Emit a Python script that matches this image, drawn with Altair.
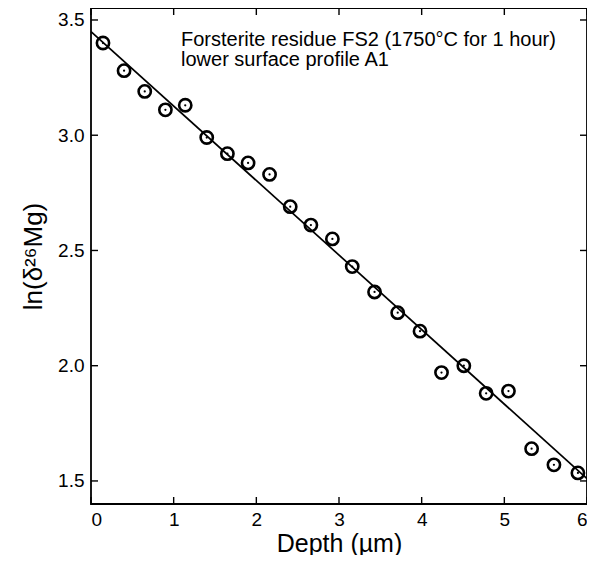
import altair as alt
import pandas as pd

# data
depth = [0.145, 0.40, 0.65, 0.90, 1.14, 1.40, 1.65, 1.90, 2.16, 2.41, 2.66, 2.92,
         3.16, 3.43, 3.71, 3.98, 4.24, 4.51, 4.78, 5.05, 5.33, 5.60, 5.89]
ln_d26 = [3.40, 3.28, 3.19, 3.11, 3.13, 2.99, 2.92, 2.88, 2.83, 2.69, 2.61, 2.55,
          2.43, 2.32, 2.23, 2.15, 1.97, 2.00, 1.88, 1.89, 1.64, 1.57, 1.535]
fit_x = [0.0, 6.0]
fit_y = [3.45, 1.51]
x_ticks = [0, 1, 2, 3, 4, 5, 6]
y_ticks = [1.5, 2.0, 2.5, 3.0, 3.5]
note = ["Forsterite residue FS2 (1750\u00b0C for 1 hour)", "lower surface profile A1"]

W, H = 496, 496
FONT = "Liberation Sans"

pts = pd.DataFrame({"x": depth, "y": ln_d26})
fit = pd.DataFrame({"x": fit_x, "y": fit_y})
xt = pd.DataFrame({"x": x_ticks})
yt = pd.DataFrame({"y": y_ticks})

xs = alt.Scale(domain=[0, 6], nice=False, zero=False)
ys = alt.Scale(domain=[1.40, 3.552], nice=False, zero=False)

xaxis = alt.Axis(values=x_ticks, format="d", ticks=False, domain=False, grid=False,
                 labelFont=FONT, labelFontSize=19, labelColor="black", labelPadding=6,
                 title="Depth (\u00b5m)", titleFont=FONT, titleFontSize=25,
                 titleFontWeight="normal", titleColor="black", titlePadding=2)
yaxis = alt.Axis(values=y_ticks, format=".1f", ticks=False, domain=False, grid=False,
                 labelFont=FONT, labelFontSize=19, labelColor="black", labelPadding=7,
                 title="ln(\u03b4\u00b2\u2076Mg)", titleFont=FONT, titleFontSize=26,
                 titleFontWeight="normal", titleColor="black", titlePadding=11)

line = alt.Chart(fit).mark_line(color="black", strokeWidth=1.7).encode(
    x=alt.X("x:Q", scale=xs, axis=xaxis),
    y=alt.Y("y:Q", scale=ys, axis=yaxis),
)
rings = alt.Chart(pts).mark_point(shape="circle", filled=False, size=150,
                                   strokeWidth=2.6, color="black", opacity=1).encode(
    x=alt.X("x:Q", scale=xs), y=alt.Y("y:Q", scale=ys))
dots = alt.Chart(pts).mark_circle(size=5, color="black", opacity=1).encode(
    x=alt.X("x:Q", scale=xs), y=alt.Y("y:Q", scale=ys))

tk = 7
bot = alt.Chart(xt).mark_rule(color="black", strokeWidth=1.4).encode(
    x=alt.X("x:Q", scale=xs), y=alt.value(H), y2=alt.value(H - tk))
top = alt.Chart(xt).mark_rule(color="black", strokeWidth=1.4).encode(
    x=alt.X("x:Q", scale=xs), y=alt.value(0), y2=alt.value(tk))
left = alt.Chart(yt).mark_rule(color="black", strokeWidth=1.4).encode(
    y=alt.Y("y:Q", scale=ys), x=alt.value(0), x2=alt.value(tk))
right = alt.Chart(yt).mark_rule(color="black", strokeWidth=1.4).encode(
    y=alt.Y("y:Q", scale=ys), x=alt.value(W), x2=alt.value(W - tk))

label = alt.Chart(pd.DataFrame({"t": [0]})).mark_text(
    text=note, align="left", baseline="alphabetic", font=FONT, fontSize=20,
    lineHeight=20, color="black").encode(x=alt.value(90), y=alt.value(38))

chart = alt.layer(line, rings, dots, bot, top, left, right, label).properties(
    width=W, height=H,
    background="white",
    autosize=alt.AutoSizeParams(type="none"),
    padding={"left": 83, "top": 0, "right": 0, "bottom": 51},
).configure_view(stroke="black", strokeWidth=1.8)

chart.save("out.html", embed_options={"renderer": "svg", "actions": False})
